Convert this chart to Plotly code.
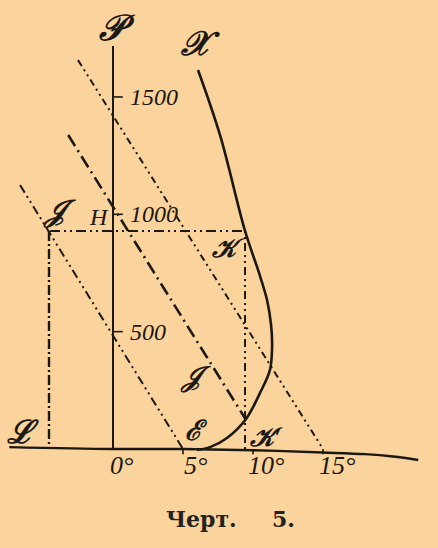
import plotly.graph_objects as go

# ---- data (degrees on x, values on y) ----
axis_x_deg = [-7.4, 0, 5, 10, 15, 18, 20, 21.8]
axis_x_val = [8, 0, 0, -5, -15, -22, -32, -47]
axis_p_deg = [0, 0]
axis_p_val = [0, 1717]
p_ticks = [500, 1000, 1500]
p_tick_labels = ["500", "1000", "1500"]
deg_ticks = [5, 10, 15]
deg_tick_labels = ["0°", "5°", "10°", "15°"]
deg_label_pos = [0.6, 5.9, 10.9, 16.0]

curve_deg = [6.07, 7.64, 9.43, 10.43, 11.0, 11.29, 11.36, 11.21, 10.5, 9.5, 8.14, 6.93, 6.0]
curve_val = [1615, 1338, 929, 750, 635, 528, 435, 337, 239, 128, 47, 8, -4]

line1_deg = [-6.64, 5.0]     # through J to E
line1_val = [1125, 0]
line2_deg = [-3.2, 9.5]      # to K'
line2_val = [1338, 124]
line3_deg = [-2.5, 15.0]     # to 15°
line3_val = [1657, 0]
jk_deg = [-4.5, 9.43]
jk_val = [929, 929]
l_deg = [-4.57, -4.57]
l_val = [929, 0]
kk_deg = [9.43, 9.43]
kk_val = [929, 0]

ink = "#1c1813"
bg = "#fbd39c"

fig = go.Figure()

def add_line(xs, ys, width=2, dash="solid", shape="linear"):
    fig.add_trace(go.Scatter(x=xs, y=ys, mode="lines",
                             line=dict(color=ink, width=width, dash=dash, shape=shape),
                             hoverinfo="skip", showlegend=False))

add_line(axis_x_deg, axis_x_val, width=2.4, shape="spline")
add_line(axis_p_deg, axis_p_val, width=2)
for v in p_ticks:
    add_line([0, 0.7], [v, v], width=1.6)
for d in deg_ticks:
    add_line([d, d], [0, -22], width=1.6)

add_line(curve_deg, curve_val, width=2.6, shape="spline")
add_line(line1_deg, line1_val, width=2, dash="9px,4px,2px,4px,2px,4px")
add_line(line2_deg, line2_val, width=2.6, dash="13px,5px,2px,5px")
add_line(line3_deg, line3_val, width=2, dash="7px,4px,2px,4px,2px,4px")
add_line(jk_deg, jk_val, width=2, dash="10px,4px,2px,4px,2px,4px")
add_line(l_deg, l_val, width=2.4, dash="10px,3px,2px,3px")
add_line(kk_deg, kk_val, width=2, dash="2px,4px,2px,4px,8px,4px")

ann = []
def label(x, y, t, size=24, xanchor="center", family="Liberation Serif", italic=True):
    txt = f"<i>{t}</i>" if italic else t
    ann.append(dict(x=x, y=y, xref="x", yref="y", text=txt, showarrow=False,
                    xanchor=xanchor, yanchor="middle",
                    font=dict(family=family, size=size, color=ink)))

for v, t in zip(p_ticks, p_tick_labels):
    label(1.05, v, t, size=24, xanchor="left")
for d, t in zip(deg_label_pos, deg_tick_labels):
    label(d, -72, t, size=26)

label(0.3, 1794, "<b>𝒫</b>", size=36)
label(6.2, 1726, "<b>𝒳</b>", size=34)
label(-1.0, 988, "H", size=24)
label(-3.8, 1014, "<b>𝒥</b>", size=30)
label(8.2, 856, "<b>𝒦</b>", size=26)
label(5.9, 307, "<b>𝒥</b>", size=28)
label(5.9, 77, "<b>ℰ</b>", size=28)
label(10.9, 47, "<b>𝒦′</b>", size=26)
label(-6.4, 72, "<b>ℒ</b>", size=32)

ann.append(dict(x=201/438, y=(548-519)/548, xref="paper", yref="paper", text="<b>Черт.</b>",
                showarrow=False, xanchor="center", yanchor="middle",
                font=dict(family="DejaVu Serif", size=22, color="#222")))
ann.append(dict(x=283/438, y=(548-519)/548, xref="paper", yref="paper", text="<b>5.</b>",
                showarrow=False, xanchor="center", yanchor="middle",
                font=dict(family="DejaVu Serif", size=22, color="#222")))

fig.update_layout(
    width=438, height=548,
    margin=dict(l=0, r=0, t=0, b=0),
    paper_bgcolor=bg, plot_bgcolor=bg,
    annotations=ann,
    xaxis=dict(range=[-8.07, 23.21], visible=False, fixedrange=True),
    yaxis=dict(range=[-421.8, 1913.1], visible=False, fixedrange=True),
)

fig.write_html("out.html", config={"displayModeBar": False},
               post_script="document.body.style.margin='0';document.body.style.background='%s';" % bg)
